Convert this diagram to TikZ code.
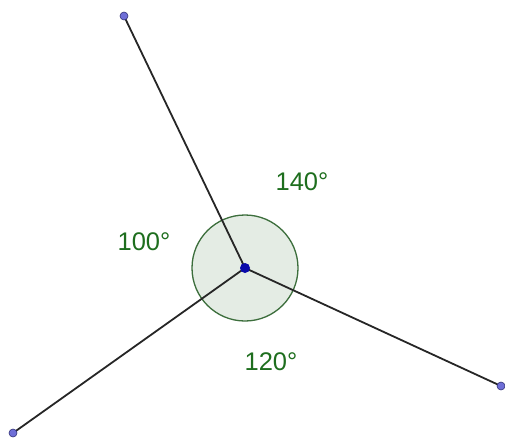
\documentclass[tikz,border=0pt]{standalone}
\usepackage{fontspec}
\setmainfont{Liberation Sans}
\definecolor{anggreen}{RGB}{30,110,30}
\definecolor{circedge}{RGB}{60,110,60}
\definecolor{circfill}{RGB}{228,236,228}
\definecolor{endpt}{RGB}{110,110,215}
\definecolor{endedge}{RGB}{50,50,120}
\definecolor{ctrpt}{RGB}{10,10,170}
\begin{document}
\begin{tikzpicture}[x=1pt,y=-1pt,
  seg/.style={line width=1.8pt, black!85},
  endnode/.style={circle, fill=endpt, draw=endedge, line width=0.6pt, inner sep=0pt, minimum size=8pt},
  ctrnode/.style={circle, fill=ctrpt, inner sep=0pt, minimum size=10pt},
  anglabel/.style={text=anggreen, font=\fontsize{25.5}{28}\selectfont, inner sep=0pt}]
\useasboundingbox (0,0) rectangle (505,439);
\coordinate (O) at (245,268);
\fill[circfill] (O) circle (53);
\draw[circedge, line width=1.3pt] (O) circle (53);
\coordinate (A) at (124,16);
\coordinate (B) at (501,386);
\coordinate (C) at (13,433);
\draw[seg] (O) -- (A);
\draw[seg] (O) -- (B);
\draw[seg] (O) -- (C);
\node[endnode] (a) at (A) {};
\node[endnode] (b) at (B) {};
\node[endnode] (c) at (C) {};
\node[ctrnode] (o) at (O) {};
\node[anglabel] (l140) at (302,182) {140°};
\node[anglabel] (l100) at (144,242) {100°};
\node[anglabel] (l120) at (271,362) {120°};
\end{tikzpicture}
\end{document}
